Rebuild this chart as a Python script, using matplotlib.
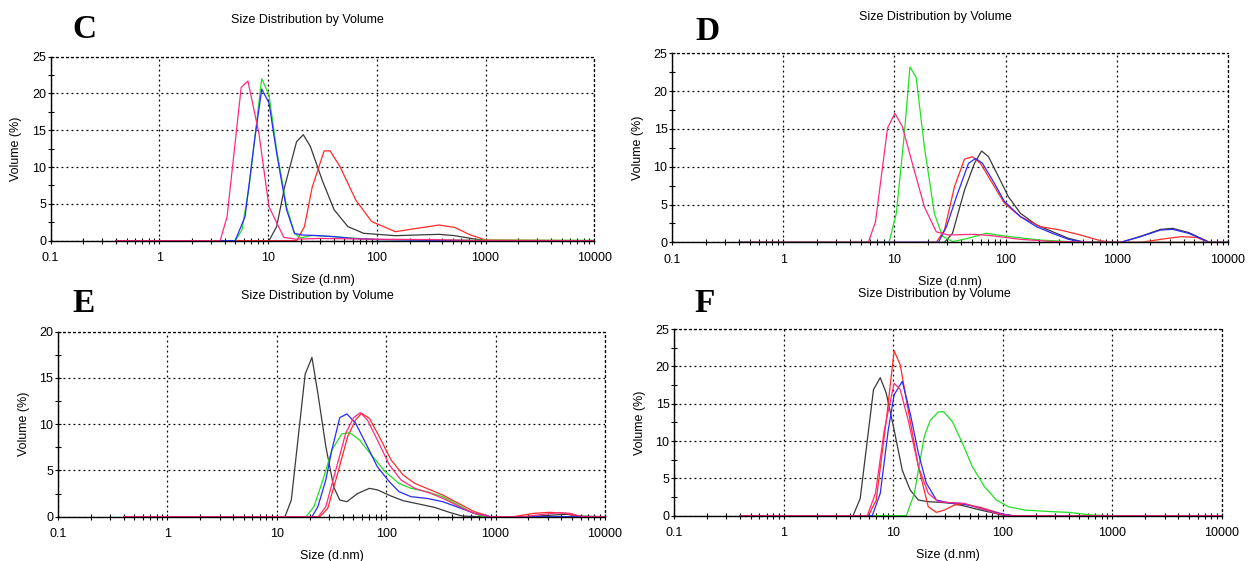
import matplotlib
matplotlib.use("Agg")
import matplotlib.pyplot as plt
from matplotlib.ticker import FixedLocator, NullFormatter, LogLocator

plt.rcParams['font.family'] = ['Liberation Sans', 'DejaVu Sans']

# ---- panel C ----
c_black_x = [0.4, 10.2, 12.0, 14.2, 18.3, 21.1, 24.5, 31.5, 40.5, 54.3, 75.8, 148, 372, 520, 791, 1000, 10000]
c_black_y = [0, 0, 1.9, 7.3, 13.45, 14.4, 12.8, 8.2, 4.2, 1.9, 1.0, 0.68, 0.86, 0.68, 0.23, 0, 0]
c_red_x = [0.4, 18.3, 21.6, 25.5, 32.8, 37.2, 45.9, 64.2, 89.7, 148, 372, 520, 728, 1000, 10000]
c_red_y = [0, 0, 1.9, 7.3, 12.2, 12.2, 10.05, 5.5, 2.6, 1.22, 2.13, 1.8, 0.77, 0.1, 0]
c_green_x = [0.4, 4.99, 5.76, 6.69, 8.75, 10.2, 12.0, 14.8, 17.5, 19.9, 25, 35, 60, 100, 300, 1000, 10000]
c_green_y = [0, 0, 1.45, 7.3, 22.0, 19.8, 12.3, 4.6, 1.0, 0.35, 0.7, 0.6, 0.35, 0.15, 0.08, 0.05, 0.05]
c_blue_x = [0.4, 4.99, 6.15, 7.59, 8.75, 10.2, 12.0, 14.8, 17.5, 20.5, 28, 40, 60, 100, 300, 1000, 10000]
c_blue_y = [0, 0, 3.3, 14.1, 20.6, 18.7, 11.9, 4.2, 1.0, 0.77, 0.7, 0.55, 0.3, 0.15, 0.05, 0, 0]
c_pink_x = [0.4, 3.63, 4.2, 5.66, 6.53, 8.24, 10.2, 13.96, 18, 30, 100, 300, 1000, 10000]
c_pink_y = [0, 0, 3.26, 20.8, 21.7, 14.6, 4.6, 0.45, 0.2, 0.3, 0.2, 0.15, 0, 0]

# ---- panel D ----
d_black_x = [0.4, 28.2, 33.3, 42.7, 52.5, 60.9, 70.2, 86.3, 106, 136, 190, 264, 368, 520, 1084, 1640, 2483, 3185, 4436, 6180, 6800, 10000]
d_black_y = [0, 0, 1.19, 6.9, 10.45, 12.08, 11.33, 8.7, 6.04, 3.84, 2.3, 1.41, 0.53, 0, 0, 0.8, 1.72, 1.85, 1.3, 0.3, 0, 0]
d_red_x = [0.4, 23.8, 28.2, 34.7, 42.7, 50.3, 59.4, 76.2, 97.7, 136, 206, 312, 472, 714, 900, 1640, 2483, 3758, 5210, 6800, 10000]
d_red_y = [0, 0, 1.63, 7.36, 11.0, 11.33, 10.45, 7.8, 5.16, 3.4, 2.07, 1.63, 0.97, 0.22, 0, 0, 0.4, 0.75, 0.66, 0, 0]
d_green_x = [0.4, 8.95, 10.4, 12.3, 13.8, 15.7, 18.6, 22.9, 27.0, 33.3, 45, 67.3, 97.7, 206, 500, 10000]
d_green_y = [0, 0, 3.8, 14.4, 23.2, 21.8, 12.65, 3.8, 0.84, 0.1, 0.5, 1.2, 0.84, 0.3, 0, 0]
d_blue_x = [0.4, 24.9, 29.4, 36.1, 46.4, 53.8, 62.0, 79.4, 97.7, 136, 190, 264, 368, 520, 1084, 1640, 2483, 3185, 4436, 6180, 6800, 10000]
d_blue_y = [0, 0, 2.07, 6.0, 10.45, 11.1, 10.45, 7.8, 5.4, 3.4, 2.07, 1.19, 0.4, 0, 0, 0.75, 1.63, 1.72, 1.19, 0.3, 0, 0]
d_pink_x = [0.4, 5.82, 6.76, 8.67, 10.1, 11.8, 14.5, 18.6, 23.8, 30.6, 50.3, 70.2, 136, 250, 700, 10000]
d_pink_y = [0, 0, 2.7, 15.1, 17.06, 15.3, 10.45, 4.7, 1.4, 0.97, 1.06, 0.93, 0.4, 0.13, 0, 0]

# ---- panel E ----
e_black_x = [0.4, 11.9, 13.6, 18.2, 21.0, 23.8, 28.1, 33.2, 37.7, 43.8, 54.8, 70.3, 83.1, 111, 143, 199, 278, 388, 498, 700, 2000, 3390, 4500, 5800, 10000]
e_black_y = [0, 0, 1.8, 15.4, 17.2, 13.3, 7.6, 3.2, 1.8, 1.62, 2.5, 3.06, 2.9, 2.23, 1.73, 1.37, 1.0, 0.43, 0.07, 0, 0, 0.18, 0.25, 0.07, 0]
e_red_x = [0.4, 24.8, 29.3, 36.1, 44.5, 52.6, 59.6, 70.3, 86.6, 111, 143, 183, 235, 329, 459, 640, 900, 1472, 2233, 3114, 4345, 5800, 10000]
e_red_y = [0, 0, 0.9, 4.68, 8.65, 10.45, 11.17, 10.63, 8.65, 6.13, 4.5, 3.6, 3.06, 2.34, 1.44, 0.54, 0, 0, 0.36, 0.47, 0.36, 0, 0]
e_green_x = [0.4, 18.5, 21.9, 27.0, 31.9, 39.3, 46.4, 57.1, 73.3, 98, 131, 169, 235, 329, 459, 589, 760, 10000]
e_green_y = [0, 0, 1.08, 4.3, 7.2, 8.94, 9.08, 8.29, 6.67, 4.86, 3.6, 3.06, 2.7, 2.16, 1.26, 0.54, 0, 0]
e_blue_x = [0.4, 21.0, 23.8, 28.1, 31.9, 37.7, 43.8, 52.6, 67.5, 83.1, 107, 131, 169, 235, 329, 459, 640, 900, 10000]
e_blue_y = [0, 0, 1.08, 3.96, 7.2, 10.7, 11.1, 10.1, 7.57, 5.4, 3.78, 2.7, 2.16, 1.98, 1.62, 1.0, 0.36, 0, 0]
e_pink_x = [0.4, 24.0, 28.1, 34.7, 42.7, 50.5, 58.1, 67.5, 83.1, 107, 137, 183, 256, 357, 498, 640, 880, 1800, 2700, 3800, 4800, 6200, 10000]
e_pink_y = [0, 0, 1.08, 5.05, 9.0, 10.7, 11.24, 10.45, 8.29, 5.6, 3.96, 3.06, 2.52, 1.8, 0.9, 0.36, 0, 0, 0.25, 0.43, 0.36, 0, 0]

# ---- panel F ----
f_black_x = [0.4, 4.3, 5.0, 6.61, 7.62, 8.65, 10.2, 12.1, 14.3, 17.0, 20.9, 26.9, 34.7, 44.6, 62.5, 80.5, 100, 120, 10000]
f_black_y = [0, 0, 2.3, 16.9, 18.5, 16.4, 11.5, 6.1, 3.44, 2.1, 1.88, 1.79, 1.65, 1.3, 0.76, 0.4, 0.09, 0, 0]
f_red_x = [0.4, 5.93, 7.0, 8.65, 10.2, 11.6, 13.7, 17.0, 20.9, 24.8, 29.3, 36.2, 44.6, 62.5, 80.5, 103, 125, 10000]
f_red_y = [0, 0, 2.1, 12.8, 22.1, 20.2, 14.2, 6.57, 1.2, 0.45, 0.76, 1.43, 1.56, 1.12, 0.63, 0.18, 0, 0]
f_green_x = [0.4, 13.2, 15.6, 19.2, 21.8, 25.8, 28.8, 34.7, 42.9, 52.8, 68, 87.5, 113, 158, 284, 398, 659, 1000, 10000]
f_green_y = [0, 0, 3.0, 10.6, 12.8, 13.9, 13.95, 12.6, 9.7, 6.57, 3.9, 2.1, 1.2, 0.76, 0.54, 0.45, 0.09, 0, 0]
f_blue_x = [0.4, 6.44, 7.62, 9.02, 10.2, 12.1, 14.3, 17.0, 20.1, 24.8, 31.9, 41.0, 52.8, 74, 92, 125, 10000]
f_blue_y = [0, 0, 3.0, 11.5, 16.2, 18.0, 13.7, 8.36, 4.34, 2.1, 1.74, 1.65, 1.3, 0.67, 0.31, 0, 0]
f_pink_x = [0.4, 5.8, 6.89, 8.3, 10.2, 11.6, 13.7, 17.0, 20.9, 25.8, 34.7, 44.6, 62.5, 87.5, 115, 10000]
f_pink_y = [0, 0, 3.0, 11.5, 17.75, 16.9, 12.8, 6.57, 3.0, 1.88, 1.74, 1.65, 0.98, 0.31, 0, 0]

x_ticks = [0.1, 1, 10, 100, 1000, 10000]
x_labels = ['0.1', '1', '10', '100', '1000', '10000']

COL = {'black': '#3a3a3a', 'red': '#ff2a2a', 'green': '#22e022', 'blue': '#2a2aff', 'pink': '#ff2a80'}

fig = plt.figure(figsize=(12.48, 5.61), dpi=100)


def make_panel(rect, ymax, curves, letter, letter_xy, title_xy):
    ax = fig.add_axes(rect)
    for name, xs, ys in curves:
        ax.plot(xs, ys, color=COL[name], lw=0.9)
    ax.set_xscale('log')
    ax.set_xlim(0.1, 10000)
    ax.set_ylim(0, ymax)
    ax.xaxis.set_major_locator(FixedLocator(x_ticks))
    ax.set_xticklabels(x_labels)
    ax.xaxis.set_minor_locator(LogLocator(base=10, subs=range(2, 10), numticks=20))
    ax.xaxis.set_minor_formatter(NullFormatter())
    ax.set_yticks(range(0, ymax + 1, 5))
    ax.set_yticks([v + 2.5 for v in range(0, ymax, 5)], minor=True)
    ax.tick_params(which='both', direction='inout', labelsize=9, colors='black',
                   length=4.5, width=0.8)
    ax.tick_params(axis='x', which='major', pad=6)
    ax.tick_params(axis='y', which='major', pad=1)
    ax.grid(True, which='major', color='black', linestyle=(0, (1.5, 2.5)), linewidth=0.9)
    for s in ['top', 'right']:
        ax.spines[s].set_linestyle((0, (1.5, 2.5)))
        ax.spines[s].set_linewidth(0.9)
    for s in ['left', 'bottom']:
        ax.spines[s].set_linewidth(1.0)
    ax.set_xlabel('Size (d.nm)', fontsize=9, labelpad=7)
    ax.set_ylabel('Volume (%)', fontsize=9, labelpad=7)
    fig.text(letter_xy[0] / 1248, 1 - letter_xy[1] / 561, letter, fontsize=24,
             fontweight='bold', family='Liberation Serif', ha='center', va='center')
    fig.text(title_xy[0] / 1248, 1 - title_xy[1] / 561, 'Size Distribution by Volume',
             fontsize=9, ha='center', va='center')
    return ax


make_panel([0.0405, 0.571, 0.4357, 0.328], 25,
           [('black', c_black_x, c_black_y), ('red', c_red_x, c_red_y),
            ('green', c_green_x, c_green_y), ('blue', c_blue_x, c_blue_y),
            ('pink', c_pink_x, c_pink_y)],
           'C', (84, 29), (307, 20))
make_panel([0.5385, 0.568, 0.4454, 0.337], 25,
           [('black', d_black_x, d_black_y), ('red', d_red_x, d_red_y),
            ('green', d_green_x, d_green_y), ('blue', d_blue_x, d_blue_y),
            ('pink', d_pink_x, d_pink_y)],
           'D', (707, 31), (935, 17))
make_panel([0.0464, 0.079, 0.4383, 0.330], 20,
           [('black', e_black_x, e_black_y), ('red', e_red_x, e_red_y),
            ('green', e_green_x, e_green_y), ('blue', e_blue_x, e_blue_y),
            ('pink', e_pink_x, e_pink_y)],
           'E', (84, 304), (317, 296))
make_panel([0.5401, 0.0807, 0.439, 0.3326], 25,
           [('black', f_black_x, f_black_y), ('red', f_red_x, f_red_y),
            ('green', f_green_x, f_green_y), ('blue', f_blue_x, f_blue_y),
            ('pink', f_pink_x, f_pink_y)],
           'F', (705, 303), (934, 294))

fig.savefig('out.png', dpi=100)
